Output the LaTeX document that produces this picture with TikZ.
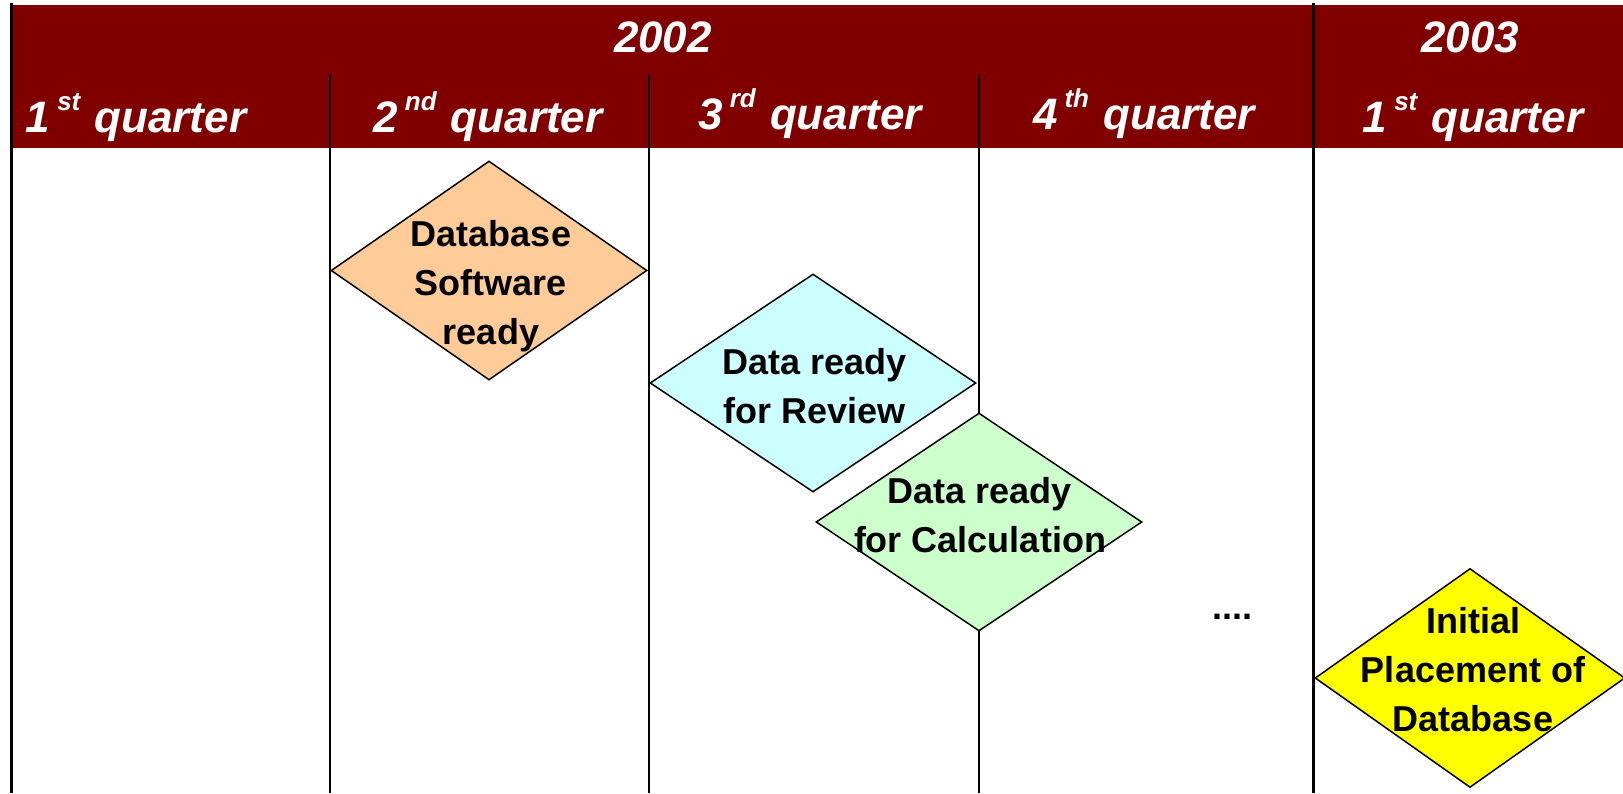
\documentclass[tikz,border=0pt]{standalone}
\usepackage{fontspec}
\setmainfont{Liberation Sans}
\usetikzlibrary{shapes.geometric}
\definecolor{hdr}{HTML}{800000}
\definecolor{orangefill}{HTML}{FFCC99}
\definecolor{cyanfill}{HTML}{CCFFFF}
\definecolor{greenfill}{HTML}{CCFFCC}
\definecolor{yellowfill}{HTML}{FFFF00}
\newcommand\qsup[1]{\raisebox{22pt}{\fontsize{26}{26}\selectfont #1}}
\begin{document}
\begin{tikzpicture}[x=1pt,y=-1pt,
  vline/.style={line width=2.8pt,black},
  hdrtext/.style={text=white,font=\fontsize{44}{48}\selectfont\bfseries\itshape,inner sep=0pt,anchor=base},
  milestone/.style={shape=diamond,draw=black,line width=1.5pt,inner sep=0pt,minimum width=#1},
  dtext/.style={font=\fontsize{36}{49}\selectfont\bfseries,align=center,inner sep=0pt,anchor=north,text=black}]
\useasboundingbox (0,0) rectangle (1623,793);
% header band
\fill[hdr] (10,5) rectangle (1623,148);
% grid lines
\draw[vline] (11.5,3) -- (11.5,793);
\draw[vline] (330,74) -- (330,793);
\draw[vline] (649,74) -- (649,793);
\draw[vline] (979,74) -- (979,793);
\draw[vline] (1313.5,3) -- (1313.5,793);
% header texts
\node[hdrtext] (y2002) at (663,52) {2002};
\node[hdrtext] (y2003) at (1470,52) {2003};
\node[hdrtext] (q1) at (136,132) {1\hspace{7pt}\qsup{st}\hspace{2pt} quarter};
\node[hdrtext] (q2) at (488,132) {2\hspace{7pt}\qsup{nd}\hspace{2pt} quarter};
\node[hdrtext] (q3) at (810,129) {3\hspace{7pt}\qsup{rd}\hspace{2pt} quarter};
\node[hdrtext] (q4) at (1144,129) {4\hspace{7pt}\qsup{th}\hspace{2pt} quarter};
\node[hdrtext] (q5) at (1473,132) {1\hspace{7pt}\qsup{st}\hspace{2pt} quarter};
% milestones
\node[milestone=316pt,minimum height=219pt,fill=orangefill] (m1) at (489,270.5) {};
\node[milestone=326pt,minimum height=218pt,fill=cyanfill] (m2) at (813,383) {};
\node[milestone=326pt,minimum height=218pt,fill=greenfill] (m3) at (979,522) {};
\node[milestone=310pt,minimum height=219pt,fill=yellowfill] (m4) at (1470,678) {};
\node[dtext] (t1) at (491,220) {Database\\Software\\ready};
\node[dtext] (t2) at (815,348) {Data ready\\for Review};
\node[dtext] (t3) at (980,477) {Data ready\\for Calculation};
\node[dtext] (t4) at (1473,607) {Initial\\Placement of\\Database};
\node[font=\fontsize{36}{40}\selectfont\bfseries,inner sep=0pt,anchor=base] (dots) at (1232,619) {....};
\end{tikzpicture}
\end{document}
